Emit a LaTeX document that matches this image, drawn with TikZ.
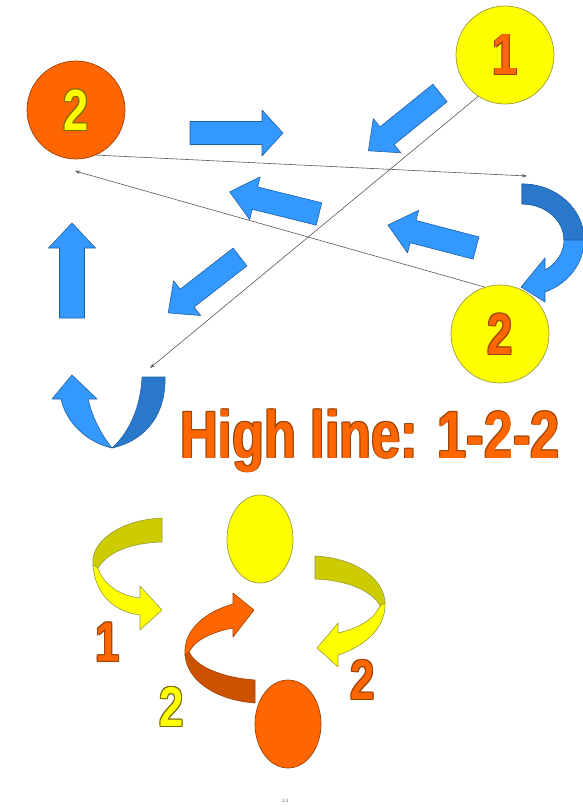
\documentclass[tikz,border=0pt]{standalone}
\usepackage{fontspec}
\usetikzlibrary{arrows.meta,shapes.geometric}
\newfontfamily\hfF[FakeStretch=0.78]{Liberation Sans}
\definecolor{bluA}{HTML}{3399FF}
\definecolor{bluD}{HTML}{2A78CC}
\definecolor{bluL}{HTML}{1F5FA8}
\definecolor{orF}{HTML}{FF6600}
\definecolor{orD}{HTML}{CC5200}
\definecolor{orO}{HTML}{A04000}
\definecolor{yeF}{HTML}{FFFF00}
\definecolor{olv}{HTML}{CCCC00}
\definecolor{yeO}{HTML}{9A9A40}
\definecolor{txO}{HTML}{9A4000}
\definecolor{tyO}{HTML}{7A6A00}
\newcommand\oshift[3]{\rlap{\hspace{#1}\raisebox{#2}{#3}}}
\newcommand\olab[4]{{\fontsize{#3}{#3}\selectfont\hfF\bfseries
  \oshift{0.9pt}{0.9pt}{\color{#2}#4}\oshift{-0.9pt}{0.9pt}{\color{#2}#4}%
  \oshift{0.9pt}{-0.9pt}{\color{#2}#4}\oshift{-0.9pt}{-0.9pt}{\color{#2}#4}%
  {\color{#1}#4}}}
\newcommand\barr[6]{\draw[bluearr, shift={(#1)}, rotate=#2] (0,-#4) -- ({#3-#6},-#4) -- ({#3-#6},-#5) -- (#3,0) -- ({#3-#6},#5) -- ({#3-#6},#4) -- (0,#4) -- cycle;}
\tikzset{
  bluearr/.style={fill=bluA, draw=bluL, line width=0.6, line join=round},
  bluedark/.style={fill=bluD, draw=bluL, line width=0.6, line join=round},
  ribbon/.style={draw=yeO, line width=0.6, line join=round},
  ribbonor/.style={draw=orO, line width=0.6, line join=round},
  ycirc/.style={circle, minimum size=98, inner sep=0, fill=yeF, draw=yeO, line width=0.7},
  ocirc/.style={circle, minimum size=98, inner sep=0, fill=orF, draw=orO, line width=0.7},
  conn/.style={draw=black!65, line width=0.6, -{Stealth[length=5pt,width=3.5pt]}},
  lab/.style={inner sep=0}
}
\begin{document}
\begin{tikzpicture}[x=1pt,y=-1pt]
\useasboundingbox (0,0) rectangle (582,810);
\fill[white] (0,0) rectangle (582,810);

% circles
\node[ocirc] (o2) at (76,110) {\olab{yeF}{tyO}{58pt}{2}};
\node[ycirc] (y1) at (505,55) {\olab{orF}{txO}{58pt}{1}};
\node[ycirc] (y2) at (500,334) {\olab{orF}{txO}{58pt}{2}};

% straight block arrows
\barr{190,133}{0}{93}{11.5}{23}{21}
\barr{440,93}{-141.1}{92}{11.3}{22}{24}
\barr{319,214}{166.1}{92}{11.5}{22}{26}
\barr{476,248}{165.4}{91}{11.5}{22}{26}
\barr{240,257}{-142.1}{91}{11.3}{22}{24}
\barr{72,318}{90}{95}{12.5}{23.5}{25}

% right U-turn arrow
\draw[bluearr] (522,184) arc[start angle=-90, end angle=68.2, x radius=62, y radius=56]
  -- (545,302) -- (521,287) -- (545,258) -- (545,270)
  arc[start angle=56.8, end angle=-90, x radius=42, y radius=36] -- cycle;
\draw[bluedark] (522,184) arc[start angle=-90, end angle=0, x radius=62, y radius=56]
  -- (564,240) arc[start angle=0, end angle=-90, x radius=42, y radius=36] -- cycle;

% left U-turn arrow
\draw[bluedark] (142,377) -- (165,377) .. controls (166,412) and (148,440) .. (112,448)
  .. controls (130,432) and (141,405) .. (142,377) -- cycle;
\draw[bluearr] (112,448) .. controls (86,442) and (66,422) .. (61,399) -- (52,399) -- (72,375)
  -- (97,399) -- (88,399) .. controls (92,416) and (100,433) .. (112,448) -- cycle;

% connectors
\coordinate (e1) at (527,176);
\coordinate (e2) at (75,171);
\coordinate (e3) at (150,368);
\draw[conn] (o2.-66) -- (e1);
\draw[conn] (y2.108) -- (e2);
\draw[conn] (y1.237) -- (e3);

% headline
\node[lab, anchor=base west] (title) at (180,458) {\olab{orF}{txO}{67pt}{High line: 1-2-2}};

% lower part: ellipses
\node[ellipse, fill=yeF, draw=yeO, line width=0.7, minimum width=66, minimum height=88, inner sep=0] (ye) at (260,539) {};
\node[ellipse, fill=orF, draw=orO, line width=0.7, minimum width=66, minimum height=88, inner sep=0] (oe) at (288,724) {};

% left yellow ribbon arrow
\draw[ribbon, fill=olv] (162,518) .. controls (118,520) and (90,543) .. (93,565) -- (98,568)
  .. controls (108,552) and (130,543) .. (162,542) -- cycle;
\draw[ribbon, fill=yeF] (93,565) .. controls (95,595) and (115,612) .. (140,615) -- (140,630)
  -- (162,610) -- (140,586) -- (140,598) .. controls (118,596) and (102,582) .. (98,568) -- cycle;

% right yellow ribbon arrow
\draw[ribbon, fill=olv] (315,556) .. controls (355,558) and (384,578) .. (385,603) -- (380,606)
  .. controls (372,590) and (345,580) .. (315,579) -- cycle;
\draw[ribbon, fill=yeF] (385,603) .. controls (386,627) and (366,646) .. (338,655) -- (338,667)
  -- (317,648) -- (338,623) -- (338,633) .. controls (360,628) and (375,618) .. (380,606) -- cycle;

% orange ribbon arrow
\draw[ribbonor, fill=orD] (255,703) .. controls (215,700) and (187,680) .. (185,655) -- (189,652)
  .. controls (197,668) and (225,678) .. (255,680) -- cycle;
\draw[ribbonor, fill=orF] (185,655) .. controls (183,630) and (205,612) .. (233,604) -- (233,593)
  -- (254,610) -- (233,637) -- (233,628) .. controls (212,632) and (195,640) .. (189,652) -- cycle;

% lower labels
\node[lab] (l1) at (108,642) {\olab{orF}{txO}{56pt}{1}};
\node[lab] (l2) at (363,680) {\olab{orF}{txO}{56pt}{2}};
\node[lab] (l3) at (172,707) {\olab{yeF}{tyO}{56pt}{2}};

% page number
\node[lab, text=black!60, font=\fontsize{5}{5}\selectfont] (pg) at (285,801) {24};
\end{tikzpicture}
\end{document}
